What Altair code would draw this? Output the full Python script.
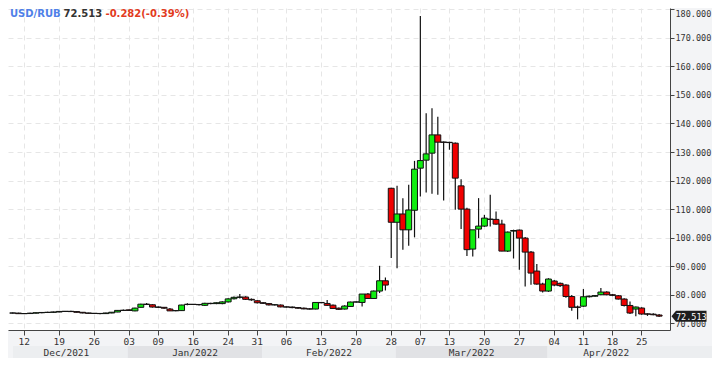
import altair as alt
import pandas as pd

# ---------------- data ----------------
dates = [
    "2021-12-09", "2021-12-10", "2021-12-12", "2021-12-13", "2021-12-14", "2021-12-15", "2021-12-16", "2021-12-17",
    "2021-12-19", "2021-12-20", "2021-12-21", "2021-12-22", "2021-12-23", "2021-12-24",
    "2021-12-26", "2021-12-27", "2021-12-28", "2021-12-29", "2021-12-30", "2021-12-31",
    "2022-01-03", "2022-01-04", "2022-01-05", "2022-01-06", "2022-01-07",
    "2022-01-09", "2022-01-10", "2022-01-11", "2022-01-12", "2022-01-13", "2022-01-14",
    "2022-01-16", "2022-01-17", "2022-01-18", "2022-01-19", "2022-01-20", "2022-01-21",
    "2022-01-24", "2022-01-25", "2022-01-26", "2022-01-27", "2022-01-28",
    "2022-01-31", "2022-02-01", "2022-02-02", "2022-02-03", "2022-02-04",
    "2022-02-06", "2022-02-07", "2022-02-08", "2022-02-09", "2022-02-10", "2022-02-11",
    "2022-02-13", "2022-02-14", "2022-02-15", "2022-02-16", "2022-02-17", "2022-02-18",
    "2022-02-20", "2022-02-21", "2022-02-22", "2022-02-23", "2022-02-24", "2022-02-25",
    "2022-02-28", "2022-03-01", "2022-03-02", "2022-03-03", "2022-03-04",
    "2022-03-07", "2022-03-08", "2022-03-09", "2022-03-10", "2022-03-11",
    "2022-03-13", "2022-03-14", "2022-03-15", "2022-03-16", "2022-03-17", "2022-03-18",
    "2022-03-20", "2022-03-21", "2022-03-22", "2022-03-23", "2022-03-24", "2022-03-25",
    "2022-03-27", "2022-03-28", "2022-03-29", "2022-03-30", "2022-03-31", "2022-04-01",
    "2022-04-04", "2022-04-05", "2022-04-06", "2022-04-07", "2022-04-08",
    "2022-04-11", "2022-04-12", "2022-04-13", "2022-04-14", "2022-04-15",
    "2022-04-18", "2022-04-19", "2022-04-20", "2022-04-21", "2022-04-22",
    "2022-04-25", "2022-04-26", "2022-04-27", "2022-04-28",
]

opens = [
    73.62, 73.58, 73.38, 73.42, 73.56, 73.70, 73.80, 73.86, 73.96, 74.16, 74.20, 74.10, 73.86, 73.62, 73.50, 73.46, 73.40, 73.62, 73.95, 74.52,
    74.72, 74.35, 75.60, 76.70, 76.50,
    75.70, 75.60, 75.00, 74.40, 74.45, 76.60,
    76.66, 76.60, 76.30, 77.00, 76.90, 76.90,
    77.50, 78.60, 79.10, 79.20, 78.40,
    77.90, 77.20, 76.90, 76.45, 76.40,
    75.75, 75.70, 75.50, 75.30, 75.05, 75.00,
    77.30, 76.95, 76.35, 75.30, 75.00, 75.90,
    77.45, 77.30, 80.25, 78.70, 81.30, 84.90,
    117.30, 105.40, 108.30, 102.75, 109.60,
    124.35, 127.15, 129.60, 136.00, 133.50,
    133.40, 133.10, 118.15, 110.00, 96.00, 103.00,
    104.05, 106.50, 106.40, 104.75, 95.30, 102.30,
    102.65, 99.85, 94.95, 88.30, 83.75, 81.30,
    84.80, 84.00, 83.40, 79.40, 75.70,
    76.00, 79.30, 79.50, 80.00, 80.95,
    80.00, 79.65, 78.50, 76.25, 75.00,
    75.35, 73.30, 73.20, 72.90,
]

highs = [
    73.80, 73.70, 73.52, 73.66, 73.80, 73.95, 74.02, 74.10, 74.30, 74.32, 74.36, 74.20, 73.96, 73.72, 73.60, 73.60, 73.72, 73.96, 74.60, 74.80,
    74.86, 75.45, 76.86, 77.10, 76.70,
    75.90, 75.70, 75.35, 74.60, 76.50, 77.00,
    76.80, 76.80, 77.20, 77.20, 77.30, 77.70,
    78.80, 79.40, 80.30, 79.50, 78.70,
    78.10, 77.40, 77.10, 76.70, 76.60,
    75.90, 75.85, 75.70, 75.50, 75.30, 77.40,
    77.50, 78.20, 76.60, 75.50, 76.30, 77.60,
    77.60, 80.30, 80.60, 81.50, 90.15, 86.05,
    117.50, 118.20, 113.80, 118.50, 126.90,
    177.65, 143.60, 145.35, 142.40, 133.70,
    133.60, 133.30, 120.50, 110.50, 98.00, 113.85,
    108.00, 115.00, 109.20, 106.30, 102.20, 102.80,
    102.90, 100.20, 95.30, 90.75, 84.20, 85.80,
    85.20, 84.30, 83.70, 79.90, 76.20,
    82.00, 79.70, 79.90, 82.40, 81.20,
    80.30, 79.90, 78.80, 77.60, 75.90,
    75.60, 73.50, 73.50, 73.30,
]

lows = [
    73.45, 73.30, 73.22, 73.30, 73.45, 73.55, 73.62, 73.70, 73.85, 74.00, 73.96, 73.78, 73.50, 73.40, 73.30, 73.20, 73.30, 73.50, 73.90, 74.30,
    74.40, 74.20, 75.50, 76.40, 75.50,
    75.40, 75.10, 74.30, 74.20, 74.40, 76.30,
    76.40, 76.20, 76.10, 76.70, 76.70, 76.70,
    77.30, 78.30, 78.70, 78.20, 77.90,
    76.90, 76.80, 76.20, 76.20, 75.60,
    75.50, 75.30, 75.10, 74.90, 74.85, 74.90,
    77.00, 76.10, 75.00, 74.70, 74.85, 75.80,
    77.30, 75.90, 78.50, 78.50, 80.60, 81.50,
    92.85, 89.30, 95.75, 97.20, 100.10,
    114.40, 115.80, 115.35, 115.00, 113.00,
    130.80, 109.75, 103.00, 93.60, 93.40, 99.85,
    103.80, 103.90, 104.50, 95.20, 95.00, 92.70,
    88.75, 82.90, 83.50, 83.50, 80.80, 81.00,
    83.00, 82.70, 78.95, 74.40, 71.40,
    75.80, 79.00, 79.30, 79.80, 79.80,
    79.50, 78.30, 75.90, 73.30, 72.50,
    73.00, 72.60, 72.80, 72.20,
]

closes = [
    73.58, 73.38, 73.42, 73.56, 73.70, 73.80, 73.86, 73.96, 74.16, 74.20, 74.10, 73.86, 73.62, 73.50, 73.46, 73.40, 73.62, 73.88, 74.52, 74.56,
    74.50, 75.32, 76.70, 76.62, 75.70,
    75.60, 75.30, 74.35, 74.45, 76.40, 76.66,
    76.60, 76.50, 77.00, 76.90, 77.20, 77.50,
    78.55, 79.10, 79.20, 78.40, 78.20,
    77.20, 77.00, 76.45, 76.50, 75.75,
    75.70, 75.50, 75.30, 75.05, 75.00, 77.30,
    77.20, 76.30, 75.20, 74.90, 76.05, 77.45,
    77.48, 80.25, 78.70, 81.30, 84.90, 83.40,
    105.40, 108.30, 102.75, 109.70, 124.00,
    127.00, 129.35, 136.00, 133.45, 133.40,
    133.30, 120.85, 110.00, 95.80, 102.75, 104.05,
    106.85, 106.40, 104.75, 95.30, 101.95, 102.50,
    99.85, 94.95, 87.60, 83.75, 81.30, 85.50,
    83.40, 83.20, 79.40, 75.60, 75.60,
    79.30, 79.50, 79.70, 80.95, 80.00,
    79.80, 78.50, 76.25, 73.60, 75.70,
    73.25, 73.20, 73.00, 72.513,
]

# week-start tick dates shown on the axis
tick_dates = [
    "2021-12-12", "2021-12-19", "2021-12-26", "2022-01-03", "2022-01-09", "2022-01-16", "2022-01-24",
    "2022-01-31", "2022-02-06", "2022-02-13", "2022-02-20", "2022-02-28", "2022-03-07", "2022-03-13",
    "2022-03-20", "2022-03-27", "2022-04-04", "2022-04-11", "2022-04-18", "2022-04-25",
]

months = ["Dec/2021", "Jan/2022", "Feb/2022", "Mar/2022", "Apr/2022"]
# month band edges in candle-index units (as seen in the picture)
month_edges = [-3.25, 17.87, 40.92, 63.87, 89.92]

y_ticks = [70, 80, 90, 100, 110, 120, 130, 140, 150, 160, 170, 180]

symbol = "USD/RUB"
last_price = 72.513
change_text = "-0.282(-0.39%)"

# ---------------- layout ----------------
FIRST_INDEX = -2          # first listed candle sits two slots left of Dec 12
W, H = 662, 322
STEP = 5.913              # pixels per candle slot
X_MIN = -11.0 / STEP
X_MAX = X_MIN + W / STEP
Y_MAX = 180.455
PX_PER_UNIT = 2.8546
Y_MIN = Y_MAX - H / PX_PER_UNIT

GREEN = "#10ee10"
RED = "#f00000"
EDGE = "#111111"
GRID = "#e6e6e6"
AXIS = "#444444"
TXT = "#333333"

assert len(dates) == len(opens) == len(highs) == len(lows) == len(closes)

df = pd.DataFrame({
    "idx": list(range(FIRST_INDEX, FIRST_INDEX + len(dates))),
    "date": dates,
    "open": opens,
    "high": highs,
    "low": lows,
    "close": closes,
})

tick_idx = [dates.index(d) + FIRST_INDEX for d in tick_dates]
tick_lbl = [d[-2:] for d in tick_dates]
lbl_js = "[" + ",".join("'%s'" % s for s in tick_lbl) + "]"
idx_js = "[" + ",".join(str(v) for v in tick_idx) + "]"
label_expr = "%s[indexof(%s, datum.value)]" % (lbl_js, idx_js)

x_scale = alt.Scale(domain=[X_MIN, X_MAX], nice=False, zero=False)
y_scale = alt.Scale(domain=[Y_MIN, Y_MAX], nice=False, zero=False)

x_axis = alt.Axis(
    values=tick_idx, labelExpr=label_expr, title=None, orient="bottom",
    tickSize=5, tickColor=AXIS, domainColor=AXIS, labelFont="DejaVu Sans Mono",
    labelFontSize=9.5, labelColor=TXT, labelPadding=1, labelFlush=False,
    labelOverlap=False, grid=True, gridColor=GRID, gridDash=[5, 4],
)
y_axis = alt.Axis(
    values=y_ticks, format=".3f", title=None, orient="right",
    tickSize=4, tickColor=AXIS, domainColor=AXIS, labelFont="DejaVu Sans Mono",
    labelFontSize=8.5, labelColor=TXT, labelPadding=1, labelFlush=3,
    labelOverlap=False, grid=True, gridColor=GRID, gridDash=[5, 4],
)


def X(field):
    return alt.X(field, scale=x_scale, axis=x_axis)


def Y(field):
    return alt.Y(field, scale=y_scale, axis=y_axis)


base = alt.Chart(df)

wicks = base.mark_rule(color=EDGE, strokeWidth=1.2, clip=True, xOffset=0.5).encode(
    x=X("idx:Q"),
    y=Y("low:Q"),
    y2="high:Q",
)

bodies = base.mark_bar(size=STEP, stroke=EDGE, strokeWidth=1, clip=True, xOffset=0.5).encode(
    x=X("idx:Q"),
    y=Y("open:Q"),
    y2="close:Q",
    color=alt.condition("datum.close >= datum.open", alt.value(GREEN), alt.value(RED)),
)

# month band row below the tick labels
edges = month_edges + [X_MAX]
mdf = pd.DataFrame({
    "month": months,
    "k": list(range(len(months))),
    "start": [max(edges[i], X_MIN) for i in range(len(months))],
    "end": [edges[i + 1] for i in range(len(months))],
    "mid": [(edges[i] + edges[i + 1]) / 2 for i in range(len(months))],
})
mdf.loc[mdf.index[-1], "end"] = X_MAX + 12  # last band runs to the window edge

BAND_TOP = H + 16
month_rects = alt.Chart(mdf).mark_rect().encode(
    x=X("start:Q"),
    x2="end:Q",
    y=alt.value(BAND_TOP),
    y2=alt.value(BAND_TOP + 30),
    color=alt.condition("datum.k % 2 == 0", alt.value("#eceef0"), alt.value("#e1e2e5")),
)
month_text = alt.Chart(mdf).mark_text(
    font="DejaVu Sans Mono", fontSize=9.5, color=TXT, baseline="alphabetic", align="center"
).encode(
    x=X("mid:Q"),
    y=alt.value(BAND_TOP + 9.5),
    text="month:N",
)

# header text
TITLE_Y = 9.0
t1 = alt.Chart(pd.DataFrame({"t": [symbol]})).mark_text(
    font="DejaVu Sans", fontWeight="bold", fontSize=10, color="#4f80e8",
    align="left", baseline="alphabetic"
).encode(x=alt.value(2), y=alt.value(TITLE_Y), text="t:N")
t2 = alt.Chart(pd.DataFrame({"t": ["%.3f" % last_price]})).mark_text(
    font="DejaVu Sans", fontWeight="bold", fontSize=10, color=TXT,
    align="left", baseline="alphabetic"
).encode(x=alt.value(55.5), y=alt.value(TITLE_Y), text="t:N")
t3 = alt.Chart(pd.DataFrame({"t": [change_text]})).mark_text(
    font="DejaVu Sans", fontWeight="bold", fontSize=10, color="#e23b1e",
    align="left", baseline="alphabetic"
).encode(x=alt.value(97.5), y=alt.value(TITLE_Y), text="t:N")

# last price tag on the right axis
pdf = pd.DataFrame({"price": [last_price], "label": ["%.3f" % last_price]})
tag_path = "M-1,0 L-0.743,-0.314 L1,-0.314 L1,0.314 L-0.743,0.314 Z"
TAG_HALF = 17.5
tag = alt.Chart(pdf).mark_point(
    shape=tag_path, size=(2 * TAG_HALF) ** 2, filled=True, color="#1e1e1e", opacity=1, strokeWidth=0
).encode(
    x=alt.value(W + 1.5 + TAG_HALF),
    y=Y("price:Q"),
)
tag_text = alt.Chart(pdf).mark_text(
    font="DejaVu Sans Mono", fontSize=8.5, color="white", align="center", baseline="middle", dy=0.5
).encode(
    x=alt.value(W + 1.5 + TAG_HALF + 2.3),
    y=Y("price:Q"),
    text="label:N",
)

chart = alt.layer(
    month_rects, month_text, wicks, bodies, t1, t2, t3, tag, tag_text
).properties(
    width=W,
    height=H,
    autosize=alt.AutoSizeParams(type="none"),
    padding={"left": 0, "top": 0, "right": 704 - W, "bottom": 28},
    background="#f3f4f6",
).configure_view(
    strokeWidth=0, fill="white"
)

chart.save("out.html", embed_options={"renderer": "svg", "actions": False})
